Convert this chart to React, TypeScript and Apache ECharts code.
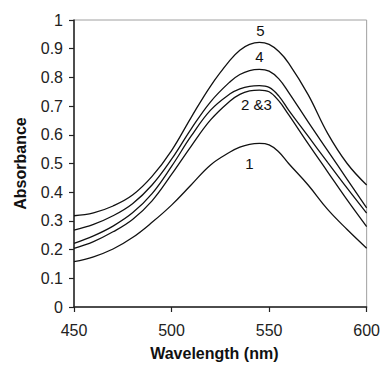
import React, { useEffect, useRef } from "react";
import * as echarts from "echarts";

const wavelengths = [450, 460, 470, 480, 490, 500, 510, 520, 530, 535, 540, 545, 550, 555, 560, 570, 580, 590, 600];
const curve1 = [0.158, 0.175, 0.202, 0.242, 0.295, 0.355, 0.425, 0.495, 0.54, 0.557, 0.567, 0.57, 0.565, 0.54, 0.5, 0.425, 0.34, 0.27, 0.205];
const curve2 = [0.204, 0.228, 0.262, 0.305, 0.37, 0.462, 0.56, 0.652, 0.718, 0.741, 0.753, 0.756, 0.75, 0.718, 0.67, 0.569, 0.471, 0.373, 0.28];
const curve3 = [0.222, 0.248, 0.282, 0.328, 0.395, 0.49, 0.595, 0.686, 0.743, 0.76, 0.769, 0.771, 0.765, 0.735, 0.686, 0.595, 0.504, 0.414, 0.327];
const curve4 = [0.268, 0.288, 0.318, 0.36, 0.425, 0.515, 0.62, 0.715, 0.785, 0.81, 0.824, 0.828, 0.822, 0.795, 0.748, 0.645, 0.545, 0.445, 0.345];
const curve5 = [0.318, 0.328, 0.352, 0.39, 0.455, 0.545, 0.66, 0.77, 0.86, 0.895, 0.915, 0.922, 0.915, 0.89, 0.85, 0.74, 0.605, 0.5, 0.425];

const yTicks = { min: 0, max: 1, interval: 0.1 };
const xTicks = { min: 450, max: 600, interval: 50 };

const FONT = "'Liberation Sans', Arial, Helvetica, sans-serif";

export default function App() {
  const ref = useRef<HTMLDivElement>(null);
  useEffect(() => {
    const chart = echarts.init(ref.current!, null, { renderer: "svg" });
    const mk = (vals: number[], label: string | null, offset: number[]) => {
      let pi = 0;
      vals.forEach((v, i) => {
        if (v > vals[pi]) pi = i;
      });
      return {
        type: "line",
        data: wavelengths.map((w, i) => [w, vals[i]]),
        symbol: "none",
        smooth: 0.4,
        lineStyle: { color: "#111", width: 1.3 },
        z: 3,
        markPoint: label
          ? {
              symbol: "circle",
              symbolSize: 1,
              itemStyle: { color: "rgba(0,0,0,0)" },
              data: [{ coord: [wavelengths[pi], vals[pi]] }],
              label: {
                show: true,
                position: "inside",
                formatter: label,
                offset,
                color: "#111",
                fontSize: 15,
                fontFamily: FONT,
              },
            }
          : undefined,
      };
    };
    chart.setOption({
      animation: false,
      backgroundColor: "#fff",
      grid: {
        left: 74,
        right: 14,
        top: 20,
        bottom: 64,
        show: true,
        borderColor: "#a0a0a0",
        borderWidth: 1,
      },
      xAxis: {
        type: "value",
        min: xTicks.min,
        max: xTicks.max,
        interval: xTicks.interval,
        name: "Wavelength (nm)",
        nameLocation: "middle",
        nameGap: 38,
        nameTextStyle: {
          fontWeight: "bold",
          fontSize: 16,
          color: "#111",
          fontFamily: FONT,
          padding: [0, 12, 0, 0],
        },
        axisLine: { show: true, lineStyle: { color: "#222", width: 1.5 } },
        axisTick: { show: true, length: 5, lineStyle: { color: "#222", width: 1.2 } },
        axisLabel: { fontSize: 16, color: "#222", margin: 15, fontFamily: FONT },
        splitLine: { show: false },
      },
      yAxis: {
        type: "value",
        min: yTicks.min,
        max: yTicks.max,
        interval: yTicks.interval,
        name: "Absorbance",
        nameLocation: "middle",
        nameGap: 46,
        nameTextStyle: { fontWeight: "bold", fontSize: 16, color: "#111", fontFamily: FONT },
        axisLine: { show: true, lineStyle: { color: "#222", width: 1.5 } },
        axisTick: { show: true, length: 5, lineStyle: { color: "#222", width: 1.2 } },
        axisLabel: { fontSize: 16, color: "#222", margin: 11, fontFamily: FONT },
        splitLine: { show: false },
      },
      series: [
        mk(curve1, "1", [-10, 20]),
        mk(curve2, null, [0, 0]),
        mk(curve3, "2 &3", [-3, 19]),
        mk(curve4, "4", [0, -13]),
        mk(curve5, "5", [1, -12]),
      ],
    });
    return () => chart.dispose();
  }, []);
  return <div ref={ref} style={{ position: "fixed", left: 0, top: 0, width: 383, height: 371 }} />;
}
